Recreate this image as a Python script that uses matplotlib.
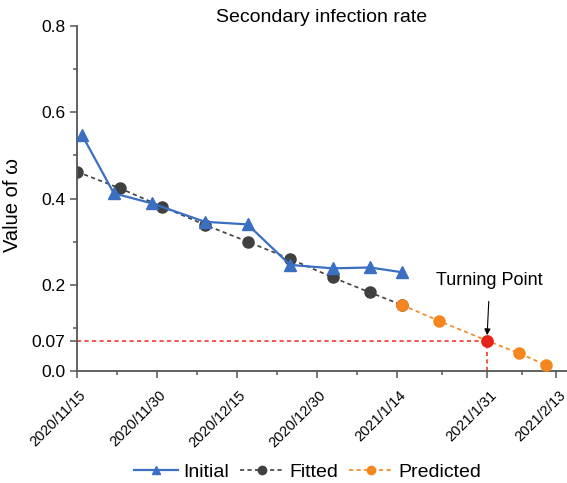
import matplotlib
matplotlib.use('Agg')
import matplotlib.pyplot as plt
import matplotlib.transforms as mtransforms
from matplotlib.lines import Line2D

plt.rcParams['font.family'] = ['Liberation Sans', 'DejaVu Sans']

# x values are days after 2020/11/15
initial_days = [0.9, 6.9, 14, 24, 32, 40, 48, 55, 61]
initial_vals = [0.548, 0.412, 0.389, 0.346, 0.340, 0.246, 0.238, 0.240, 0.229]

fitted_days = [0, 8, 16, 24, 32, 40, 48, 55, 61]
fitted_vals = [0.462, 0.424, 0.381, 0.339, 0.300, 0.260, 0.217, 0.182, 0.153]

predicted_days = [61, 68, 77, 83, 88]
predicted_vals = [0.153, 0.116, 0.070, 0.041, 0.014]

turning_day = 77
turning_val = 0.07

tick_days = [0, 15, 30, 45, 60, 77, 90]
tick_labels = ['2020/11/15', '2020/11/30', '2020/12/15', '2020/12/30',
               '2021/1/14', '2021/1/31', '2021/2/13']
ytick_vals = [0.0, 0.07, 0.2, 0.4, 0.6, 0.8]
ytick_labels = ['0.0', '0.07', '0.2', '0.4', '0.6', '0.8']

blue = '#3a6fc2'
grey = '#404040'
orange = '#f5861f'
red = '#e3231c'

fig = plt.figure(figsize=(5.67, 4.83), dpi=100)
ax = fig.add_axes([0.136, 0.232, 0.864, 0.714])

# reference lines to the turning point
ax.plot([0, turning_day], [turning_val, turning_val], ls=(0, (2.5, 2)),
        color='#f23b2b', lw=1.2, zorder=1)
ax.plot([turning_day, turning_day], [0, turning_val], ls=(0, (2.5, 2)),
        color='#f23b2b', lw=1.2, zorder=1)

ax.plot(fitted_days, fitted_vals, ls=(0, (2.5, 2)), color=grey, lw=1.2,
        marker='o', ms=8, mfc=grey, mec=grey, zorder=2)
ax.plot(initial_days, initial_vals, ls='-', color=blue, lw=1.6,
        marker='^', ms=9, mfc=blue, mec=blue, zorder=3)
ax.plot(predicted_days, predicted_vals, ls=(0, (2.5, 2)), color=orange, lw=1.2,
        marker='o', ms=8, mfc=orange, mec=orange, zorder=4)
ax.plot([turning_day], [turning_val], marker='o', ms=8, color=red, zorder=5)

ax.annotate('Turning Point', xy=(turning_day, 0.083), xytext=(turning_day + 0.5, 0.21),
            ha='center', va='center', fontsize=13,
            arrowprops=dict(arrowstyle='-|>', color='black', lw=0.8,
                            mutation_scale=9, shrinkA=7, shrinkB=0))

ax.set_xlim(0, 92)
ax.set_ylim(0, 0.8)
ax.set_xticks(tick_days)
ax.set_xticklabels(tick_labels, rotation=45, ha='right', rotation_mode='anchor',
                   fontsize=10.5)
minor_x = [(a + b) / 2 for a, b in zip(tick_days[:-1], tick_days[1:])]
ax.set_xticks(minor_x, minor=True)
ax.set_yticks(ytick_vals)
ax.set_yticklabels(ytick_labels, fontsize=12.5)
ax.set_yticks([0.1, 0.3, 0.5, 0.7], minor=True)

for side in ['top', 'right']:
    ax.spines[side].set_visible(False)
for side in ['left', 'bottom']:
    ax.spines[side].set_color('#555555')
    ax.spines[side].set_linewidth(1.3)
ax.tick_params(which='major', direction='out', length=5, width=1.1, color='#555555')
ax.tick_params(which='minor', direction='out', length=3, width=1.1, color='#555555')
ax.tick_params(axis='x', which='major', pad=4)

# shift rotated date labels a little to the right, like the original
shift = mtransforms.ScaledTranslation(0.02, -0.05, fig.dpi_scale_trans)
for lbl in ax.get_xticklabels():
    lbl.set_transform(lbl.get_transform() + shift)

ax.set_title('Secondary infection rate', fontsize=14, pad=-1.5)
ax.set_ylabel('Value of ω', fontsize=14.5)
ax.yaxis.set_label_coords(-0.112, 0.48)

handles = [
    Line2D([], [], color=blue, ls='-', lw=1.6, marker='^', ms=6),
    Line2D([], [], color=grey, ls=(0, (2.5, 2)), lw=1.2, marker='o', ms=6),
    Line2D([], [], color=orange, ls=(0, (2.5, 2)), lw=1.2, marker='o', ms=6),
]
fig.legend(handles, ['Initial', 'Fitted', 'Predicted'], loc='center',
           bbox_to_anchor=(0.543, 0.022), ncol=3, frameon=False, fontsize=14,
           handlelength=2.25, handletextpad=0.3, columnspacing=0.55)

fig.savefig('out.png', dpi=100)
